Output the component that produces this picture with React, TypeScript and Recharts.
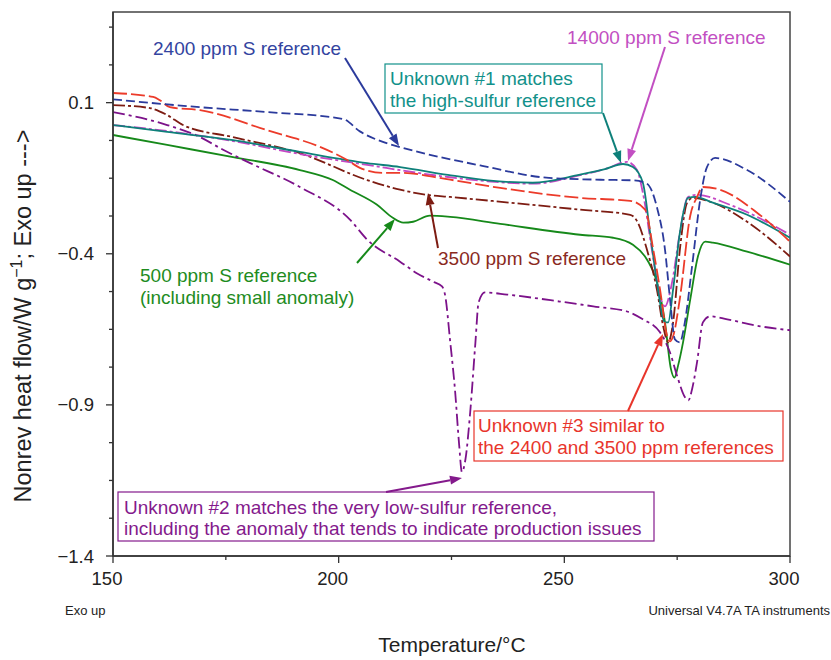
import React from 'react';
import { LineChart, Line, XAxis, YAxis, ReferenceArea } from 'recharts';

const FONT = '"Liberation Sans", Arial, Helvetica, sans-serif';

// Axis ticks
const xMajorTicks = [150, 200, 250, 300];
const xTicks = [150, 175, 200, 225, 250, 275, 300];
const yMajorTicks = [-1.4, -0.9, -0.4, 0.1];
const yTicks = [-1.4, -1.275, -1.15, -1.025, -0.9, -0.775, -0.65, -0.525, -0.4, -0.275, -0.15, -0.025, 0.1, 0.225, 0.35];

// 2400 ppm S reference (blue dashed)
const ref2400T = [150, 169.3, 184.1, 201, 204.7, 209.8, 213.6, 231.8, 246.6, 258, 265.4, 268.3, 270.5, 272.3, 273.4, 274.5, 275.6, 276.7, 278.3, 280.1, 281.6, 283.4, 290.5, 300];
const ref2400V = [0.111, 0.085, 0.069, 0.046, 0.005, -0.03, -0.047, -0.109, -0.149, -0.155, -0.157, -0.168, -0.245, -0.386, -0.548, -0.683, -0.693, -0.627, -0.442, -0.221, -0.113, -0.083, -0.123, -0.228];

// Unknown #3 (red long dash)
const unk3T = [150, 158.9, 160.4, 162.6, 169.3, 184.1, 197.4, 201.9, 204.7, 209.8, 213.6, 224.7, 235.8, 253.5, 264.6, 267.9, 269.7, 271.2, 272.8, 273.4, 274.1, 275.6, 277.9, 279.4, 280.7, 284.5, 292.7, 300];
const unk3V = [0.132, 0.119, 0.108, 0.085, 0.075, 0.009, -0.056, -0.09, -0.116, -0.132, -0.132, -0.155, -0.182, -0.215, -0.225, -0.254, -0.386, -0.518, -0.673, -0.69, -0.673, -0.548, -0.274, -0.212, -0.179, -0.188, -0.264, -0.36];

// 3500 ppm S reference (maroon dash-dot)
const ref3500T = [150, 158.2, 162, 165.5, 176.6, 191.4, 206.3, 213.6, 219.6, 224.7, 253.5, 264.6, 266.3, 268.3, 270.5, 271.9, 273, 274.1, 275.6, 277.2, 278.5, 282.9, 290.5, 300];
const ref3500V = [0.092, 0.082, 0.059, 0.026, -0.014, -0.067, -0.156, -0.188, -0.205, -0.212, -0.254, -0.271, -0.297, -0.386, -0.518, -0.64, -0.693, -0.627, -0.386, -0.231, -0.215, -0.231, -0.294, -0.409];

// 500 ppm S reference (green solid)
const ref500T = [150, 162, 176.6, 191.4, 198.7, 202.5, 208.5, 212, 214.3, 216.5, 220.2, 224.7, 235.8, 253.5, 260.8, 265.2, 268.3, 270.5, 272.3, 273.6, 274.4, 275.2, 276.3, 277.9, 279.6, 281.2, 282.9, 290.5, 300];
const ref500V = [-0.007, -0.04, -0.08, -0.123, -0.156, -0.188, -0.238, -0.281, -0.297, -0.294, -0.274, -0.278, -0.301, -0.337, -0.347, -0.37, -0.419, -0.492, -0.627, -0.78, -0.81, -0.77, -0.693, -0.551, -0.409, -0.36, -0.363, -0.393, -0.436];

// Unknown #1 (teal solid)
const unk1T = [150, 162, 176.6, 191.4, 206.3, 213.6, 224.2, 233, 243, 253.5, 259, 263, 265.2, 267.4, 269, 270.5, 272.3, 273, 274.1, 275.6, 277.4, 279, 282.9, 290.5, 300];
const unk1V = [0.026, 0.003, -0.024, -0.063, -0.1, -0.113, -0.139, -0.157, -0.165, -0.138, -0.12, -0.103, -0.113, -0.165, -0.33, -0.492, -0.627, -0.627, -0.518, -0.33, -0.215, -0.212, -0.231, -0.271, -0.347];

// 14000 ppm S reference (magenta dash-dot)
const ref14000T = [150, 162, 176.6, 191.4, 206.3, 224.2, 233, 243, 253.5, 259, 263.9, 266.1, 267.4, 269.4, 271.2, 272.3, 273.9, 275.6, 277.4, 279.4, 286.7, 300];
const ref14000V = [0.026, 0.006, -0.027, -0.07, -0.106, -0.146, -0.16, -0.168, -0.14, -0.12, -0.096, -0.123, -0.198, -0.386, -0.541, -0.574, -0.492, -0.33, -0.212, -0.205, -0.238, -0.337];

// Unknown #2 (purple dash-dot)
const unk2T = [150, 162, 169.3, 174.4, 180.4, 191.4, 202.5, 206.3, 213.6, 217.4, 220.9, 222.9, 223.6, 224.7, 225.8, 226.7, 227.3, 228.1, 229.2, 230.3, 231, 232.4, 237.3, 249, 256.4, 263.9, 267.4, 271.2, 273.4, 275, 276.7, 277.5, 278.3, 279.4, 280.7, 282.3, 286.1, 293.4, 300];
const unk2V = [0.069, 0.026, -0.014, -0.056, -0.1, -0.179, -0.287, -0.353, -0.426, -0.465, -0.492, -0.508, -0.538, -0.689, -0.855, -1.033, -1.122, -1.079, -0.914, -0.693, -0.561, -0.528, -0.535, -0.558, -0.574, -0.591, -0.617, -0.66, -0.726, -0.805, -0.874, -0.885, -0.848, -0.759, -0.627, -0.607, -0.617, -0.64, -0.653];

const zip = (t: number[], v: number[]) => t.map((x, i) => ({ t: x, v: v[i] }));

const series = [
  { key: 'ref500', data: zip(ref500T, ref500V), color: '#16891a', dash: undefined as string | undefined },
  { key: 'unk2', data: zip(unk2T, unk2V), color: '#7c128a', dash: '12 4 3 4' },
  { key: 'ref3500', data: zip(ref3500T, ref3500V), color: '#7d1c12', dash: '12 3 3 3' },
  { key: 'ref14000', data: zip(ref14000T, ref14000V), color: '#c447c4', dash: '12 3 3 3' },
  { key: 'unk1', data: zip(unk1T, unk1V), color: '#0e807a', dash: undefined },
  { key: 'unk3', data: zip(unk3T, unk3V), color: '#ec3b2a', dash: '14 4' },
  { key: 'ref2400', data: zip(ref2400T, ref2400V), color: '#2b3a9c', dash: '9 4' },
];

const near = (a: number, list: number[]) => list.some((b) => Math.abs(a - b) < 1e-6);

const XTick = (props: any) => {
  const { x, y, payload } = props;
  const major = near(payload.value, xMajorTicks);
  return (
    <g>
      <line x1={x} x2={x} y1={y} y2={y + (major ? 7 : 4)} stroke="#333" strokeWidth={1.3} />
      {major && (
        <text x={x - 6} y={y + 29} textAnchor="middle" fontSize={18.5} fill="#222" fontFamily={FONT}>
          {payload.value}
        </text>
      )}
    </g>
  );
};

const YTick = (props: any) => {
  const { x, y, payload } = props;
  const major = near(payload.value, yMajorTicks);
  const label = Number(payload.value).toFixed(1).replace('-', '\u2212');
  return (
    <g>
      <line x1={x - (major ? 7 : 4)} x2={x} y1={y} y2={y} stroke="#333" strokeWidth={1.3} />
      {major && (
        <text x={x - 19} y={y + 6.5} textAnchor="end" fontSize={18.5} fill="#222" fontFamily={FONT}>
          {label}
        </text>
      )}
    </g>
  );
};

const Arrow = ({ x1, y1, x2, y2, color }: { x1: number; y1: number; x2: number; y2: number; color: string }) => {
  const a = Math.atan2(y2 - y1, x2 - x1);
  const L = 12;
  const W = 4.5;
  const bx = x2 - L * Math.cos(a);
  const by = y2 - L * Math.sin(a);
  const px = -Math.sin(a) * W;
  const py = Math.cos(a) * W;
  return (
    <g>
      <line x1={x1} y1={y1} x2={bx} y2={by} stroke={color} strokeWidth={2} />
      <polygon points={`${x2},${y2} ${bx + px},${by + py} ${bx - px},${by - py}`} fill={color} />
    </g>
  );
};

const T = ({ x, y, color, children, size = 19 }: any) => (
  <text x={x} y={y} fill={color} fontSize={size} fontFamily={FONT}>
    {children}
  </text>
);

const Overlay = () => (
  <svg width={831} height={660} style={{ position: 'absolute', left: 0, top: 0, pointerEvents: 'none' }}>
    {/* Y axis title */}
    <text transform="translate(31,316) rotate(-90)" textAnchor="middle" fontSize={23.5} fill="#222" fontFamily={FONT}>
      <tspan>Nonrev heat flow/W g</tspan>
      <tspan fontSize={16} dy={-9}>{'\u22121'}</tspan>
      <tspan dy={9}>; Exo up ---&gt;</tspan>
    </text>
    {/* X axis title */}
    <text x={452} y={652} textAnchor="middle" fontSize={21} fill="#222" fontFamily={FONT}>
      Temperature/°C
    </text>
    <text x={65} y={615} fontSize={13} fill="#222" fontFamily={FONT}>Exo up</text>
    <text x={830} y={615} textAnchor="end" fontSize={13} fill="#222" fontFamily={FONT}>
      Universal V4.7A TA instruments
    </text>

    {/* 2400 */}
    <T x={153} y={55} color="#3344a0">2400 ppm S reference</T>
    <Arrow x1={345} y1={58} x2={399} y2={146} color="#2b3a9c" />

    {/* 14000 */}
    <T x={567} y={44} color="#c24fc2">14000 ppm S reference</T>
    <Arrow x1={665} y1={47} x2={628} y2={161} color="#c24fc2" />

    {/* Unknown #1 */}
    <rect x={385} y={64} width={217} height={49} fill="#fff" stroke="#12918a" strokeWidth={1.2} />
    <T x={390} y={85} color="#12918a">Unknown #1 matches</T>
    <T x={390} y={106.5} color="#12918a">the high-sulfur reference</T>
    <Arrow x1={603} y1={113} x2={621} y2={163} color="#0e807a" />

    {/* 500 */}
    <T x={140} y={281.5} color="#1e8c1e">500 ppm S reference</T>
    <T x={140} y={303.5} color="#1e8c1e">(including small anomaly)</T>
    <Arrow x1={357} y1={263} x2={395} y2={219} color="#16891a" />

    {/* 3500 */}
    <T x={438} y={265} color="#8a2a1e">3500 ppm S reference</T>
    <Arrow x1={438} y1={248} x2={428} y2={193} color="#7d1c12" />

    {/* Unknown #3 */}
    <rect x={474} y={411} width={309} height={50} fill="#fff" stroke="#e8352b" strokeWidth={1.2} />
    <T x={478} y={432} color="#e8352b">Unknown #3 similar to</T>
    <T x={478} y={454} color="#e8352b">the 2400 and 3500 ppm references</T>
    <Arrow x1={628} y1={411} x2={663} y2={334} color="#e8352b" />

    {/* Unknown #2 */}
    <rect x={118} y={492} width={536} height={49} fill="#fff" stroke="#841a8c" strokeWidth={1.2} />
    <T x={124} y={513.5} color="#841a8c">Unknown #2 matches the very low-sulfur reference,</T>
    <T x={124} y={534.5} color="#841a8c">including the anomaly that tends to indicate production issues</T>
    <Arrow x1={386} y1={492} x2={462} y2={478} color="#841a8c" />
  </svg>
);

export default function App() {
  return (
    <div style={{ position: 'absolute', left: 0, top: 0, width: 831, height: 660, background: '#fff' }}>
      <LineChart width={831} height={660} margin={{ top: 12, right: 41, left: 0, bottom: 0 }}>
        <XAxis
          type="number"
          dataKey="t"
          domain={[150, 300]}
          ticks={xTicks}
          interval={0}
          height={104}
          tickSize={0}
          tickMargin={0}
          tickLine={false}
          tick={XTick}
          axisLine={{ stroke: '#333', strokeWidth: 1.5 }}
          allowDataOverflow
        />
        <YAxis
          type="number"
          dataKey="v"
          domain={[-1.4, 0.4]}
          ticks={yTicks}
          interval={0}
          width={113}
          tickSize={0}
          tickMargin={0}
          tickLine={false}
          tick={YTick}
          axisLine={{ stroke: '#333', strokeWidth: 1.5 }}
          allowDataOverflow
        />
        <ReferenceArea x1={150} x2={300} y1={-1.4} y2={0.4} fill="none" stroke="#444" strokeWidth={1.5} />
        {series.map((s) => (
          <Line
            key={s.key}
            data={s.data}
            dataKey="v"
            type="monotone"
            stroke={s.color}
            strokeWidth={1.8}
            strokeDasharray={s.dash}
            dot={false}
            activeDot={false}
            isAnimationActive={false}
          />
        ))}
      </LineChart>
      <Overlay />
    </div>
  );
}
